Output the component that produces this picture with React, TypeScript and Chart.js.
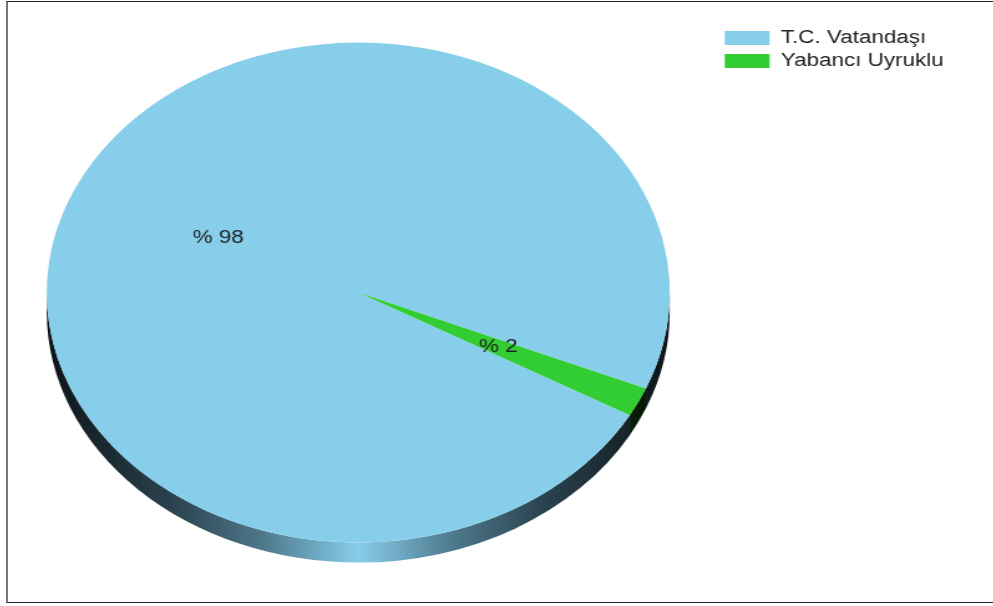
import React, { useEffect, useRef } from 'react';
import { Chart, registerables } from 'chart.js';

Chart.register(...registerables);

const categories = ['T.C. Vatandaşı', 'Yabancı Uyruklu'];
const shares = [98.12, 1.88];
const sliceColors = ['#87CEEB', '#32CD32'];
const sideStops = [
  ['#0c1418', '#2a424e', '#4f7a8d', '#87ceeb'],
  ['#031003', '#0d3a0d', '#1c6e1c', '#32cd32'],
];

const STRETCH = 993 / 797;
const DEPTH = 20;
const FONT = "'Liberation Sans', Arial, Helvetica, sans-serif";

const sidePlugin = {
  id: 'side3d',
  beforeDatasetsDraw(chart: any) {
    const meta = chart.getDatasetMeta(0);
    const ctx = chart.ctx as CanvasRenderingContext2D;
    meta.data.forEach((arc: any, i: number) => {
      const p = arc.getProps(['x', 'y', 'outerRadius', 'startAngle', 'endAngle'], true);
      const r = p.outerRadius;
      for (let k = -1; k <= 1; k++) {
        const a1 = Math.max(p.startAngle + 2 * Math.PI * k, 0);
        const a2 = Math.min(p.endAngle + 2 * Math.PI * k, Math.PI);
        if (a2 <= a1) continue;
        ctx.save();
        ctx.beginPath();
        ctx.arc(p.x, p.y, r, a1, a2);
        ctx.arc(p.x, p.y + DEPTH, r, a2, a1, true);
        ctx.closePath();
        const g = ctx.createLinearGradient(p.x - r, 0, p.x + r, 0);
        const s = sideStops[i];
        g.addColorStop(0, s[0]);
        g.addColorStop(0.2, s[1]);
        g.addColorStop(0.35, s[2]);
        g.addColorStop(0.5, s[3]);
        g.addColorStop(0.65, s[2]);
        g.addColorStop(0.8, s[1]);
        g.addColorStop(1, s[0]);
        ctx.fillStyle = g;
        ctx.fill();
        ctx.restore();
      }
    });
  },
};

const labelPlugin = {
  id: 'sliceLabels',
  afterDatasetsDraw(chart: any) {
    const meta = chart.getDatasetMeta(0);
    const ctx = chart.ctx as CanvasRenderingContext2D;
    ctx.save();
    ctx.font = `18px ${FONT}`;
    ctx.fillStyle = '#222';
    ctx.textAlign = 'center';
    ctx.textBaseline = 'middle';
    meta.data.forEach((arc: any, i: number) => {
      const pos = arc.tooltipPosition(true);
      ctx.fillText(`% ${Math.round(shares[i])}`, pos.x, pos.y);
    });
    ctx.restore();
  },
};

export default function App() {
  const ref = useRef<HTMLCanvasElement>(null);
  useEffect(() => {
    document.body.style.margin = '0';
    document.body.style.overflow = 'hidden';
    const chart = new Chart(ref.current as HTMLCanvasElement, {
      type: 'pie',
      data: {
        labels: categories,
        datasets: [
          {
            data: shares,
            backgroundColor: sliceColors,
            borderWidth: 0,
            radius: 250,
          } as any,
        ],
      },
      options: {
        animation: false,
        responsive: true,
        maintainAspectRatio: false,
        rotation: 119.35,
        events: [],
        layout: { padding: { left: 0, right: 28, top: 24, bottom: 44.8 } },
        plugins: {
          legend: {
            position: 'right',
            align: 'start',
            labels: {
              boxWidth: 36,
              boxHeight: 14,
              padding: 5,
              color: '#222',
              font: { family: FONT, size: 18 },
            },
          },
          tooltip: { enabled: false },
        },
      } as any,
      plugins: [sidePlugin, labelPlugin],
    });
    return () => chart.destroy();
  }, []);

  return (
    <div style={{ position: 'absolute', left: 0, top: 0, width: 993, height: 606, overflow: 'hidden', background: '#fff' }}>
      <div
        style={{
          position: 'absolute', left: 6, top: 1, right: 0, height: 602,
          borderTop: '1px solid #222', borderLeft: '2px solid #777', borderBottom: '1px solid #222',
          boxSizing: 'border-box',
        }}
      />
      <div
        style={{
          position: 'absolute', left: -2, top: 0, width: 797, height: 606,
          transform: `scaleX(${STRETCH})`, transformOrigin: '0 0',
        }}
      >
        <canvas ref={ref} />
      </div>
    </div>
  );
}
